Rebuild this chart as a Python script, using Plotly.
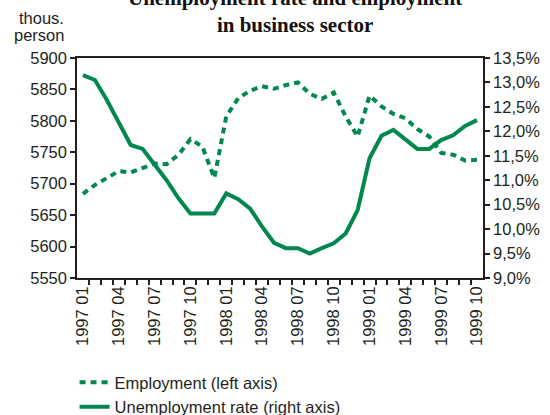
import plotly.graph_objects as go

months = [f"{y} {m:02d}" for y in (1997, 1998, 1999) for m in range(1, 13)][:34]

employment = [5684, 5698, 5709, 5720, 5718, 5725, 5732, 5731, 5746, 5771, 5759, 5709,
              5807, 5836, 5848, 5855, 5851, 5857, 5861, 5843, 5835, 5845, 5807, 5775,
              5840, 5823, 5811, 5804, 5787, 5775, 5749, 5746, 5737, 5738]

unemployment = [13.15, 13.05, 12.64, 12.16, 11.72, 11.64, 11.33, 11.00, 10.63, 10.32,
                10.32, 10.32, 10.73, 10.61, 10.42, 10.05, 9.72, 9.61, 9.61, 9.50,
                9.61, 9.71, 9.91, 10.39, 11.45, 11.91, 12.03, 11.84, 11.64, 11.64,
                11.82, 11.92, 12.11, 12.23]

left_ticks = [5550, 5600, 5650, 5700, 5750, 5800, 5850, 5900]
right_ticks = [9.0, 9.5, 10.0, 10.5, 11.0, 11.5, 12.0, 12.5, 13.0, 13.5]
right_labels = ["9,0%", "9,5%", "10,0%", "10,5%", "11,0%", "11,5%", "12,0%", "12,5%", "13,0%", "13,5%"]

GREEN = "#00884F"
INK = "#231F20"
FONT = "Liberation Sans, Arial, sans-serif"
FS = 16.5

idx = list(range(len(months)))
label_idx = idx[::3]
boundaries = [i + 0.5 for i in idx[:-1]]
xrange_ = [-0.5, len(months) - 0.5]

fig = go.Figure()
fig.add_trace(go.Scatter(x=idx, y=employment, mode="lines", name="Employment (left axis)",
                         line=dict(color=GREEN, width=4, dash="6px,5px"), yaxis="y"))
fig.add_trace(go.Scatter(x=idx, y=unemployment, mode="lines", name="Unemployment rate (right axis)",
                         line=dict(color=GREEN, width=4), yaxis="y2"))

axis_common = dict(showgrid=False, zeroline=False, linecolor=INK, linewidth=1.5,
                   tickcolor=INK, tickwidth=1.5, ticklen=5, automargin=False,
                   tickfont=dict(family=FONT, size=FS, color=INK))

fig.update_layout(
    width=550, height=415,
    margin=dict(l=77, r=67, t=58, b=137),
    paper_bgcolor="white", plot_bgcolor="white",
    font=dict(family=FONT, size=FS, color=INK),
    xaxis=dict(range=xrange_, tickmode="array", tickvals=label_idx,
               ticktext=[months[i] for i in label_idx], tickangle=-90, ticks="",
               showline=True, mirror=True,
               minor=dict(tickmode="array", tickvals=boundaries, ticks="outside",
                          ticklen=5, tickwidth=1.5, tickcolor=INK),
               **{k: v for k, v in axis_common.items() if k not in ("ticklen",)}),
    xaxis2=dict(range=xrange_, overlaying="x", anchor="y", showline=False, showticklabels=False,
                showgrid=False, zeroline=False, ticks="", automargin=False,
                minor=dict(tickmode="array", tickvals=boundaries, ticks="inside",
                           ticklen=5, tickwidth=1.5, tickcolor=INK)),
    yaxis=dict(range=[left_ticks[0], left_ticks[-1]], tickmode="array", tickvals=left_ticks,
               ticktext=[str(v) for v in left_ticks], ticks="outside", showline=True,
               **axis_common),
    yaxis3=dict(range=[left_ticks[0], left_ticks[-1]], overlaying="y", side="left",
                tickmode="array", tickvals=left_ticks, ticks="inside", showticklabels=False,
                showline=False, showgrid=False, zeroline=False, ticklen=5, tickwidth=1.5,
                tickcolor=INK, automargin=False),
    yaxis2=dict(range=[right_ticks[0], right_ticks[-1]], overlaying="y", side="right",
                tickmode="array", tickvals=right_ticks, ticktext=right_labels,
                ticks="outside", showline=True, **axis_common),
    yaxis4=dict(range=[right_ticks[0], right_ticks[-1]], overlaying="y", side="right",
                tickmode="array", tickvals=right_ticks, ticks="inside", showticklabels=False,
                showline=False, showgrid=False, zeroline=False, ticklen=5, tickwidth=1.5,
                tickcolor=INK, automargin=False),
    showlegend=True,
    legend=dict(x=-0.006, xanchor="left", xref="paper", y=1 - 365 / 415, yanchor="top",
                yref="container", orientation="v",
                bgcolor="rgba(0,0,0,0)", font=dict(family=FONT, size=FS, color=INK),
                tracegroupgap=0),
    annotations=[
        dict(text="<b>Unemployment rate and employment<br>in business sector</b>",
             xref="paper", yref="paper", x=0.537, y=1.2114, xanchor="center", yanchor="middle",
             showarrow=False, font=dict(family="Liberation Serif, Times New Roman, serif",
                                        size=21, color="#111111")),
        dict(text="thous.", xref="paper", yref="paper", x=-0.027, y=1.1818,
             xanchor="right", yanchor="middle", showarrow=False,
             font=dict(family=FONT, size=FS, color=INK)),
        dict(text="person", xref="paper", yref="paper", x=-0.027, y=1.1045,
             xanchor="right", yanchor="middle", showarrow=False,
             font=dict(family=FONT, size=FS, color=INK)),
    ],
)

fig.write_html("out.html")
